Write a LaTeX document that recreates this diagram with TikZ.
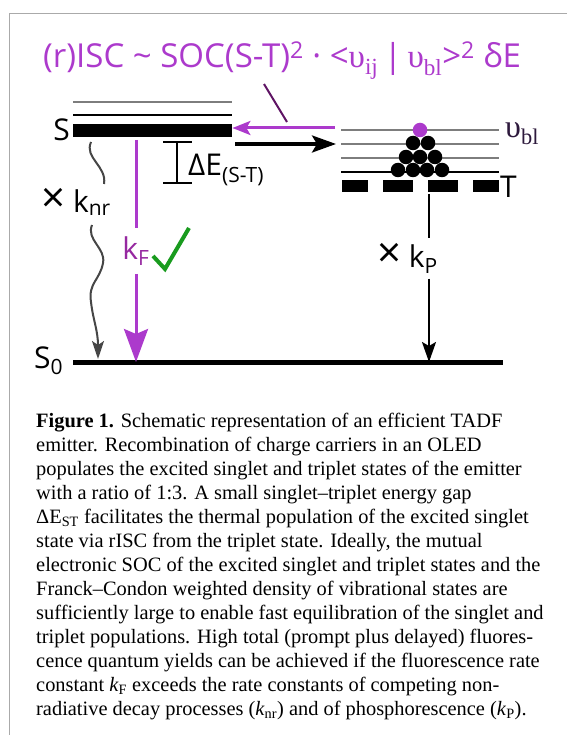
\documentclass[tikz,border=0pt]{standalone}
\usepackage{fontspec}
\setmainfont{Liberation Serif}
\newfontfamily\diagfont{Open Sans}
\usetikzlibrary{positioning, arrows.meta}

\definecolor{iscpurple}{RGB}{172,58,204}
\definecolor{linkpurple}{RGB}{95,20,100}
\definecolor{kfpurple}{RGB}{150,40,160}
\definecolor{checkgreen}{RGB}{25,155,30}
\definecolor{levelgray}{RGB}{125,125,125}
\definecolor{wavegray}{RGB}{70,70,70}
\definecolor{vibdark}{RGB}{45,25,60}
\definecolor{framegray}{RGB}{170,170,170}

\newcommand{\bigtimes}{{\fontsize{42}{42}\selectfont ×}}

\begin{document}
\begin{tikzpicture}[
    x=1pt, y=-1pt,
    diaglabel/.style={font=\diagfont\fontsize{30}{30}\selectfont, inner sep=0pt},
    vibline/.style={levelgray, line width=2pt},
    levelline/.style={black, line width=2pt},
    fluo/.style={iscpurple, line width=3pt},
    decay/.style={black, line width=2pt},
    wave/.style={wavegray, line width=2pt},
    popdot/.style={circle, fill=black, inner sep=0pt, minimum size=14.5pt}
]
\useasboundingbox (0,0) rectangle (567,735);

% frame
\draw[framegray, line width=1pt] (567,14) -- (9,14) -- (9,735);

% rate expression
\node[anchor=base west, inner sep=0pt, text=iscpurple,
    font=\diagfont\fontsize{33}{33}\selectfont] (rate) at (43,68)
    {(r)ISC \textasciitilde{} SOC(S-T)\textsuperscript{2} · <{\rmfamily υ\textsubscript{ij}}\,|\,{\rmfamily υ\textsubscript{bl}}>\textsuperscript{2} δE};
\coordinate (ptrtop) at (264,84);
\coordinate (ptrbot) at (287,122);
\draw[linkpurple, line width=2pt] (ptrtop) -- (ptrbot);

% singlet levels
\draw[vibline] (73,102) -- (232,102);
\draw[levelline] (73,115) -- (232,115);
\node[fill=black, minimum width=159pt, minimum height=13pt, inner sep=0pt,
    anchor=north west] (Sbar) at (73,124) {};
\node[diaglabel, anchor=base east] (Slab) at (70,141) {S};

% triplet levels
\foreach \y in {130,144,158}
    \draw[vibline] (341,\y) -- (499,\y);
\draw[black, line width=2.5pt] (341,172) -- (499,172);
\foreach \a/\b in {342/368, 383/413, 428/458, 473/499}
    \fill (\a,180) rectangle (\b,192);
\node[diaglabel, anchor=west] (Tlab) at (500,187) {T};
\node[anchor=base west, inner sep=0pt, text=vibdark,
    font=\fontsize{32}{32}\selectfont] (vbl) at (505,138) {υ\textsubscript{bl}};

% population
\node[popdot, fill=iscpurple] (top) at (420,130) {};
\foreach \x/\y in {413/143, 428/143, 406/157, 420/157, 435/157,
                   398/170, 413/170, 427/170, 442/170}
    \node[popdot] at (\x,\y) {};

% ground state
\coordinate (S0left) at (73,362);
\coordinate (S0right) at (503,362);
\draw[black, line width=5pt] (S0left) -- (S0right);
\node[diaglabel, anchor=base west] (S0lab) at (34,368) {S\textsubscript{0}};

% ISC and rISC
\coordinate (rtail) at (335,128);
\draw[fluo, -{Stealth[length=18pt, width=14pt, inset=4pt]}] (rtail) -- (Sbar.east |- rtail);
\coordinate (isctail) at (235,144);
\coordinate (isctip) at (336,144);
\draw[black, line width=3.5pt, -{Stealth[length=24pt, width=17pt, inset=5pt]}] (isctail) -- (isctip);

% energy gap
\draw[black, line width=2pt] (163,142) -- (192,142) (177,142) -- (177,183) (163,183) -- (192,183);
\node[diaglabel, anchor=base west] (gap) at (188,176) {ΔE\textsubscript{(S-T)}};

% fluorescence
\coordinate (kFtop) at (136,140);
\node[diaglabel, text=kfpurple, inner ysep=8pt] (kF) at (136,251) {k\textsubscript{F}};
\draw[fluo] (kFtop) -- (kF);
\draw[fluo, -{Stealth[length=33pt, width=24pt, inset=5pt]}] (kF) -- (kFtop |- S0left);
\draw[checkgreen, line width=4pt] (153,256) -- (165,269) -- (189,228);

% non-radiative decay
\node[diaglabel, anchor=base west] (knr) at (41,212) {\bigtimes\ k\textsubscript{nr}};
\coordinate (nrtop) at (91,142);
\coordinate (nrmid) at (104,184);
\coordinate (nrlow) at (92,225);
\coordinate (nrend) at (98,359);
\draw[wave] (nrtop) .. controls (84,158) and (107,166) .. (nrmid);
\draw[wave, -{Stealth[length=18pt, width=12pt, inset=4pt]}] (nrlow)
    .. controls (86,240) and (106,248) .. (103,263)
    .. controls (100,280) and (88,283) .. (91,302)
    .. controls (93,320) and (98,330) .. (nrend);

% phosphorescence
\coordinate (kPtop) at (429,194);
\node[diaglabel, anchor=base east, inner ysep=5pt] (kP) at (438,267) {\bigtimes\ k\textsubscript{P}};
\draw[decay] (kPtop) -- (kPtop |- kP.north);
\draw[decay, -{Stealth[length=20pt, width=14pt, inset=4pt]}] (kPtop |- kP.south) -- (kPtop |- S0left);

% caption
\node[anchor=north west, inner sep=0pt, align=left,
    font=\fontsize{20.4}{24}\selectfont] (caption) at (36,413)
    {\textbf{Figure 1.} Schematic representation of an efficient TADF\\
    emitter. Recombination of charge carriers in an OLED\\
    populates the excited singlet and triplet states of the emitter\\
    with a ratio of 1:3. A small singlet--triplet energy gap\\
    ΔE\textsubscript{ST} facilitates the thermal population of the excited singlet\\
    state via rISC from the triplet state. Ideally, the mutual\\
    electronic SOC of the excited singlet and triplet states and the\\
    Franck--Condon weighted density of vibrational states are\\
    sufficiently large to enable fast equilibration of the singlet and\\
    triplet populations. High total (prompt plus delayed) fluores-\\
    cence quantum yields can be achieved if the fluorescence rate\\
    constant \textit{k}\textsubscript{F} exceeds the rate constants of competing non-\\
    radiative decay processes (\textit{k}\textsubscript{nr}) and of phosphorescence (\textit{k}\textsubscript{P}).};
\end{tikzpicture}
\end{document}
